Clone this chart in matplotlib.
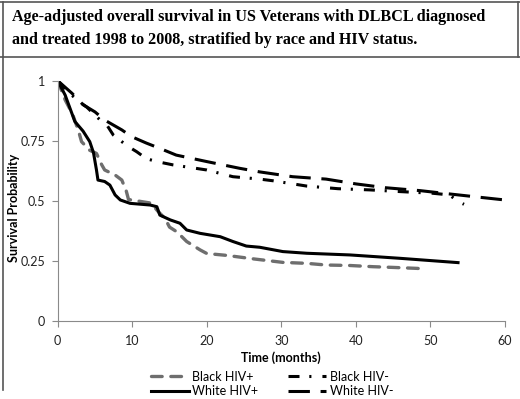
import matplotlib.pyplot as plt
from matplotlib.lines import Line2D

# survival curves (months, probability)
t_black_pos = [0, 1.0, 2.0, 2.8, 3.2, 4.3, 5.2, 5.9, 6.3, 7.7, 8.6, 9.2, 9.5, 12.5, 13.5, 14.4,
               15.0, 16.0, 17.3, 19.1, 20, 22.7, 26.4, 30.2, 33.4, 36, 39.2, 42.3, 45, 48.2, 49.5]
s_black_pos = [1, 0.92, 0.86, 0.79, 0.746, 0.71, 0.697, 0.65, 0.628, 0.607, 0.586, 0.54, 0.505, 0.49,
               0.454, 0.426, 0.39, 0.37, 0.33, 0.295, 0.28, 0.272, 0.257, 0.243, 0.239, 0.232, 0.23,
               0.225, 0.222, 0.218, 0.215]

t_white_pos = [0, 1, 2.3, 3.4, 4.3, 4.8, 5.2, 5.4, 6.3, 7.0, 7.7, 8.4, 9.7, 12.4, 13.3, 13.7, 15.1,
               16.4, 17.3, 19.1, 21.8, 23.5, 25.3, 27.1, 30.2, 33.4, 39.2, 45.9, 53.7]
s_white_pos = [1, 0.94, 0.83, 0.79, 0.746, 0.70, 0.628, 0.586, 0.58, 0.565, 0.524, 0.503, 0.489,
               0.482, 0.475, 0.44, 0.42, 0.406, 0.378, 0.364, 0.35, 0.33, 0.311, 0.306, 0.288,
               0.281, 0.274, 0.26, 0.242]

t_black_neg = [0, 1.5, 3.0, 3.9, 5.7, 6.6, 7.45, 8.6, 9.5, 10.6, 11.9, 13.3, 15.5, 20, 23.5, 27.1,
               28.9, 33.4, 37.6, 41.9, 45.9, 50.3, 52.6, 53.5, 54.5]
s_black_neg = [1, 0.95, 0.91, 0.89, 0.836, 0.815, 0.774, 0.746, 0.725, 0.704, 0.675, 0.663, 0.649,
               0.628, 0.60, 0.59, 0.583, 0.561, 0.55, 0.545, 0.538, 0.531, 0.524, 0.50, 0.485]

t_white_neg = [0, 1.9, 3.4, 5.0, 6.3, 8.6, 9.9, 11.9, 13.7, 15.9, 20, 24.4, 27.1, 31.5, 36, 40,
               44, 48.6, 52.6, 57, 60]
s_white_neg = [1, 0.948, 0.90, 0.87, 0.836, 0.795, 0.767, 0.74, 0.718, 0.69, 0.663, 0.635, 0.62,
               0.60, 0.59, 0.57, 0.554, 0.542, 0.528, 0.513, 0.503]

xticks = [0, 10, 20, 30, 40, 50, 60]
yticks = [0, 0.25, 0.5, 0.75, 1]
ytick_labels = ['0', '0.25', '0.5', '0.75', '1']

plt.rcParams['font.family'] = ['Lato', 'DejaVu Sans']

W, H = 520, 399
fig = plt.figure(figsize=(W / 100, H / 100), dpi=100)
ax = fig.add_axes([57.7 / W, 1 - 320.7 / H, (505 - 57.7) / W, (320.7 - 80.7) / H])

ax.plot(t_black_pos, s_black_pos, color='#6e6e6e', lw=2.4, dashes=(3.2, 2.6),
        dash_capstyle='round', label='Black HIV+')
ax.plot(t_white_pos, s_white_pos, color='black', lw=2.2, label='White HIV+')
ax.plot(t_black_neg, s_black_neg, color='black', lw=2.2, dashes=(3.6, 3.2, 0.7, 3.6),
        label='Black HIV-')
ax.plot(t_white_neg, s_white_neg, color='black', lw=2.2, dashes=(7, 3.5),
        label='White HIV-')

ax.set_xlim(0, 60)
ax.set_ylim(0, 1)
ax.set_xticks(xticks)
ax.set_yticks(yticks)
ax.set_yticklabels(ytick_labels)
for s in ['top', 'right']:
    ax.spines[s].set_visible(False)
for s in ['left', 'bottom']:
    ax.spines[s].set_color('#8a8a8a')
ax.tick_params(direction='out', length=4, color='#8a8a8a', labelsize=9, labelcolor='#222222')
ax.tick_params(axis='x', pad=6)
ax.tick_params(axis='y', pad=5)

fig.text(281 / W, 1 - 358 / H, 'Time (months)', fontsize=9, fontweight='bold',
         ha='center', va='center')
fig.text(14 / W, 1 - 208 / H, 'Survival Probability', rotation=90, fontsize=9,
         fontweight='bold', ha='center', va='center')

fig.legend(loc='center', bbox_to_anchor=(272 / W, 1 - 384 / H), ncol=2, frameon=False,
           fontsize=9, handlelength=3.0, handletextpad=0.3, columnspacing=2.4,
           labelspacing=0.2, borderpad=0)

fig.text(12 / W, 1 - 17 / H, 'Age-adjusted overall survival in US Veterans with DLBCL diagnosed',
         family='Liberation Serif', fontweight='bold', fontsize=11.6, va='center')
fig.text(12 / W, 1 - 40 / H, 'and treated 1998 to 2008, stratified by race and HIV status.',
         family='Liberation Serif', fontweight='bold', fontsize=11.6, va='center')

# frame lines around the title box and down the left side
fc = '#555555'
fig.add_artist(Line2D([0, 1], [1 - 1.5 / H, 1 - 1.5 / H], color=fc, lw=1.2))
fig.add_artist(Line2D([0, 1], [1 - 56.5 / H, 1 - 56.5 / H], color=fc, lw=1.2))
fig.add_artist(Line2D([517.5 / W, 517.5 / W], [1 - 1.5 / H, 1 - 56.5 / H], color=fc, lw=1.2))
fig.add_artist(Line2D([3 / W, 3 / W], [1 - 1.5 / H, 1 - 390 / H], color=fc, lw=1.2))

fig.savefig('out.png', dpi=100)
